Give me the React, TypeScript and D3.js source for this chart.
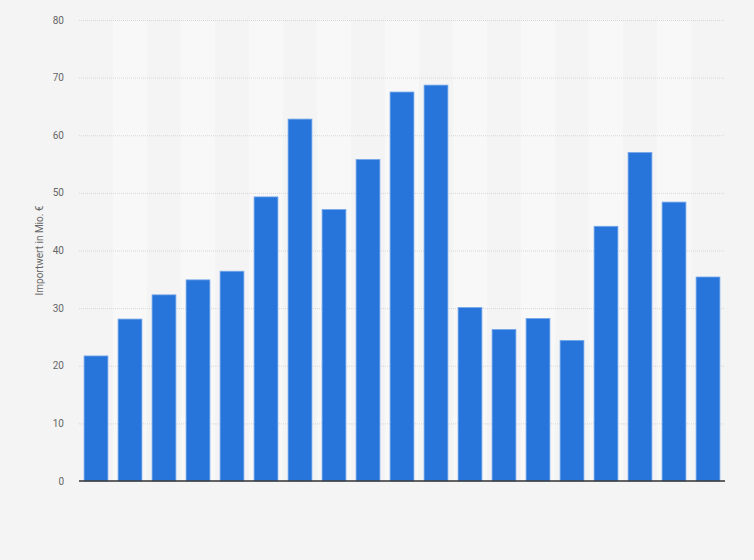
import { useEffect, useRef } from 'react'
import * as d3 from 'd3'

// 19 Jahre, keine Achsenbeschriftung sichtbar
const categories = d3.range(1, 20).map(String)
const values = [21.7, 28.1, 32.3, 34.9, 36.4, 49.3, 62.8, 47.1, 55.8, 67.5, 68.7, 30.1, 26.3, 28.2, 24.4, 44.2, 57.0, 48.4, 35.4]
const yTicks = [0, 10, 20, 30, 40, 50, 60, 70, 80]
const yLabel = 'Importwert in Mio. €'

const W = 754
const H = 560

export default function App() {
  const svgRef = useRef<SVGSVGElement>(null)

  useEffect(() => {
    if (!svgRef.current) return
    const svg = d3.select(svgRef.current)
    svg.selectAll('*').remove()

    const margin = { top: 20, right: 29, bottom: 79, left: 79 }

    const x = d3.scaleBand()
      .domain(categories)
      .range([margin.left, W - margin.right])
      .paddingInner(0.3)
      .paddingOuter(0.15)

    const y = d3.scaleLinear()
      .domain([0, 80])
      .range([H - margin.bottom, margin.top])

    svg.append('rect')
      .attr('width', W).attr('height', H)
      .attr('fill', '#f4f4f4')

    // alternating column stripes
    const step = x.step()
    categories.forEach((c, i) => {
      if (i % 2 === 0) return
      svg.append('rect')
        .attr('x', margin.left + i * step)
        .attr('y', y(80))
        .attr('width', step)
        .attr('height', y(0) - y(80))
        .attr('fill', '#f8f8f8')
    })

    // grid
    yTicks.forEach(t => {
      if (t === 0) return
      svg.append('line')
        .attr('x1', margin.left).attr('x2', W - margin.right)
        .attr('y1', y(t) + 0.5).attr('y2', y(t) + 0.5)
        .attr('stroke', '#d7d7d7')
        .attr('stroke-width', 1)
        .attr('stroke-dasharray', '1,1')
    })

    // tick labels
    yTicks.forEach(t => {
      svg.append('text')
        .attr('x', 64)
        .attr('y', y(t) + 3.5)
        .attr('text-anchor', 'end')
        .attr('fill', '#666')
        .attr('font-size', '10px')
        .attr('font-family', 'Roboto, sans-serif')
        .text(t)
    })

    svg.append('text')
      .attr('transform', `translate(43, ${y(40)}) rotate(-90)`)
      .attr('text-anchor', 'middle')
      .attr('fill', '#666')
      .attr('font-size', '10px')
      .attr('font-family', 'Roboto, sans-serif')
      .text(yLabel)

    // bars
    categories.forEach((c, i) => {
      svg.append('rect')
        .attr('x', x(c)!)
        .attr('y', y(values[i]))
        .attr('width', x.bandwidth())
        .attr('height', y(0) - y(values[i]))
        .attr('fill', '#2775db')
        .attr('stroke', '#74a6ea')
        .attr('stroke-width', 0.8)
    })

    // baseline
    svg.append('line')
      .attr('x1', margin.left).attr('x2', W - margin.right)
      .attr('y1', y(0)).attr('y2', y(0))
      .attr('stroke', '#333')
      .attr('stroke-width', 1.5)
  }, [])

  return (
    <svg ref={svgRef} width={W} height={H}
      style={{ position: 'absolute', left: 0, top: 0, display: 'block' }} />
  )
}
